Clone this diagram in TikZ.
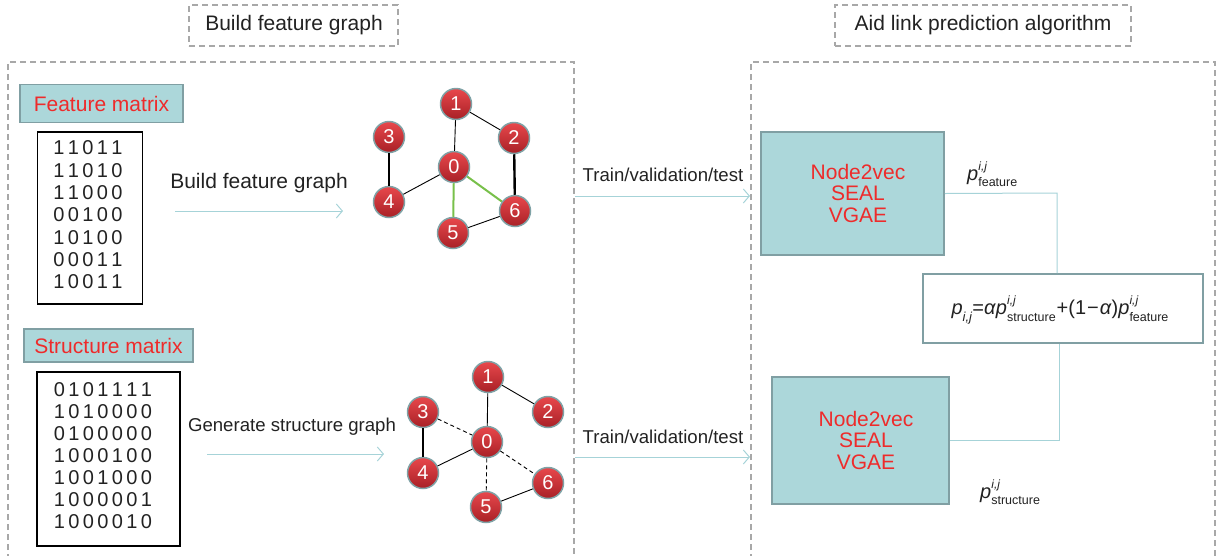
\documentclass[tikz,border=0pt]{standalone}
\usepackage{fontspec}
\setmainfont{Liberation Sans}
\usetikzlibrary{arrows.meta}
\definecolor{tealfill}{HTML}{ACD7DA}
\definecolor{tealedge}{HTML}{809FA3}
\definecolor{arrowc}{HTML}{A6D3D8}
\definecolor{dashc}{HTML}{A8A8A8}
\definecolor{redtxt}{HTML}{EE2B2B}
\definecolor{balltop}{HTML}{E8484C}
\definecolor{ballbot}{HTML}{A82026}
\definecolor{ballrim}{HTML}{7FA2A6}
\definecolor{greenedge}{HTML}{78C04A}
\definecolor{txt}{HTML}{222222}
\newcommand{\fs}[1]{\fontsize{#1}{#1}\selectfont}
\newcommand{\dg}[1]{\makebox[14.5pt]{#1}}
\newcommand{\dgrow}[1]{\dgrowi#1\relax}
\def\dgrowi#1{\ifx#1\relax\else\dg{#1}\expandafter\dgrowi\fi}
\newcommand{\pijsup}[1]{\textit{p}\makebox[0pt][l]{\raisebox{0.5em}{\fs{12}\textit{i,j}}}\raisebox{-0.32em}{\fs{12.5}#1}}
\begin{document}
\begin{tikzpicture}[x=1pt,y=-1pt,
  every node/.style={text=txt},
  dashbox/.style={draw=dashc,line width=1.2pt,dash pattern=on 6pt off 4pt},
  tealbox/.style={draw=tealedge,fill=tealfill,line width=1.8pt,inner sep=0pt},
  matbox/.style={draw=black,line width=1.3pt,inner sep=0pt},
  ball/.style={circle,draw=ballrim,line width=1.5pt,top color=balltop,bottom color=ballbot,minimum size=31pt,inner sep=0pt,text=white,font=\fs{20}},
  thinedge/.style={draw=black,line width=0.9pt},
  thickedge/.style={draw=black,line width=2.4pt},
  greenE/.style={draw=greenedge,line width=2pt},
  dashE/.style={draw=black,line width=0.9pt,dash pattern=on 4pt off 3pt},
  flow/.style={draw=arrowc,line width=1pt,-{Straight Barb[length=6pt,width=14pt,line width=1pt]}},
  link/.style={draw=arrowc,line width=1pt},
  lbl/.style={font=\fs{21}},
  mid/.style={font=\fs{18.6}},
  digits/.style={font=\fs{20}},
  redlbl/.style={text=redtxt,font=\fs{21},align=center},
  redstack/.style={text=redtxt,font={\fontsize{21}{21.5}\selectfont},align=center}
]
\useasboundingbox (0,0) rectangle (1217,555);

% top labels
\node[dashbox,minimum width=209pt,minimum height=41pt,inner sep=0pt] (t1) at (293.5,25.5) {};
\node[lbl] (t1t) at (294,25) {Build feature graph};
\node[dashbox,minimum width=296pt,minimum height=41pt,inner sep=0pt] (t2) at (983,25.5) {};
\node[lbl] (t2t) at (983,25) {Aid link prediction algorithm};

% big dashed areas (open at bottom)
\draw[dashbox] (8,560) -- (8,62) -- (574,62) -- (574,560);
\draw[dashbox] (751,560) -- (751,62) -- (1215,62) -- (1215,560);

% feature matrix
\node[tealbox,minimum width=163pt,minimum height=38pt] (fm) at (101.5,103.5) {};
\node[redlbl] (fmt) at (101.5,104) {Feature matrix};
\node[matbox,minimum width=105pt,minimum height=172pt] (m1) at (90,218) {};
\foreach \r [count=\i from 0] in {11011,11010,11000,00100,10100,00011,10011}{
  \node[digits] (m1r\i) at (88,148+22.3*\i) {\expandafter\dgrow\expandafter{\r}};
}

% structure matrix
\node[tealbox,minimum width=169pt,minimum height=33pt] (sm) at (108.5,345.5) {};
\node[redlbl] (smt) at (108.5,346) {Structure matrix};
\node[matbox,minimum width=143pt,minimum height=174pt] (m2) at (108.5,459) {};
\foreach \r [count=\i from 0] in {0101111,1010000,0100000,1000100,1001000,1000001,1000010}{
  \node[digits] (m2r\i) at (103,390+22*\i) {\expandafter\dgrow\expandafter{\r}};
}

% build arrows
\node[lbl] (bfg) at (259,183) {Build feature graph};
\coordinate (a1s) at (175,211);
\coordinate (a1e) at (343,211);
\draw[flow] (a1s) -- (a1e);
\node[mid] (gsg) at (292,427) {Generate structure graph};
\coordinate (a2s) at (207,454);
\coordinate (a2e) at (384,454);
\draw[flow] (a2s) -- (a2e);

% graph 1
\node[ball] (g1n1) at (456,104) {1};
\node[ball] (g1n2) at (514,138) {2};
\node[ball] (g1n3) at (389,137) {3};
\node[ball] (g1n0) at (454,167) {0};
\node[ball] (g1n4) at (389,202) {4};
\node[ball] (g1n6) at (515,211) {6};
\node[ball] (g1n5) at (453,233) {5};
\draw[thinedge] (g1n1) -- (g1n0);
\draw[thinedge] (g1n1) -- (g1n2);
\draw[thickedge] (g1n3) -- (g1n4);
\draw[thickedge] (g1n2) -- (g1n6);
\draw[thinedge] (g1n0) -- (g1n4);
\draw[greenE] (g1n0) -- (g1n5);
\draw[greenE] (g1n0) -- (g1n6);
\draw[thinedge] (g1n5) -- (g1n6);

% graph 2
\node[ball] (g2n1) at (488,377) {1};
\node[ball] (g2n2) at (548,412) {2};
\node[ball] (g2n3) at (423,412) {3};
\node[ball] (g2n0) at (487,442) {0};
\node[ball] (g2n4) at (423,473) {4};
\node[ball] (g2n6) at (548,483) {6};
\node[ball] (g2n5) at (486,507) {5};
\draw[thinedge] (g2n1) -- (g2n0);
\draw[thinedge] (g2n1) -- (g2n2);
\draw[thickedge] (g2n3) -- (g2n4);
\draw[thinedge] (g2n0) -- (g2n4);
\draw[dashE] (g2n3) -- (g2n0);
\draw[dashE] (g2n0) -- (g2n5);
\draw[dashE] (g2n0) -- (g2n6);
\draw[thinedge] (g2n5) -- (g2n6);

% train arrows
\node[mid] (tv1) at (663,175) {Train/validation/test};
\coordinate (b1s) at (575,196);
\coordinate (b1e) at (750,196);
\draw[flow] (b1s) -- (b1e);
\node[mid] (tv2) at (663,437) {Train/validation/test};
\coordinate (b2s) at (575,457);
\coordinate (b2e) at (750,457);
\draw[flow] (b2s) -- (b2e);

% algorithm boxes
\node[tealbox,minimum width=183pt,minimum height=123pt] (alg1) at (852.5,193.5) {};
\node[redstack] (alg1t) at (858,193) {Node2vec\\SEAL\\VGAE};
\node[tealbox,minimum width=177pt,minimum height=127pt] (alg2) at (860.5,440.5) {};
\node[redstack] (alg2t) at (866,440) {Node2vec\\SEAL\\VGAE};

% formula box
\node[draw=tealedge,fill=white,line width=1.8pt,minimum width=280pt,minimum height=69pt,inner sep=0pt] (form) at (1063,308.5) {};
\node[font=\fs{20}] (formt) at (1060,310) {\textit{p}\raisebox{-0.32em}{\fs{13}\textit{i,j}}=\textit{α}\pijsup{structure}\kern1pt+(1\kern1pt−\kern1pt\textit{α})\pijsup{feature}};

% probability labels
\node[font=\fs{20},anchor=west,inner sep=0pt] (pf) at (967,174) {\pijsup{feature}};
\node[font=\fs{20},anchor=west,inner sep=0pt] (ps) at (980,492) {\pijsup{structure}};

% connectors
\coordinate (c1) at (1057,193);
\draw[link] (alg1.east) -- (c1) -- (form.north -| c1);
\coordinate (c2) at (1059,440.5);
\draw[link] (form.south -| c2) -- (c2) -- (alg2.east);

\end{tikzpicture}
\end{document}
